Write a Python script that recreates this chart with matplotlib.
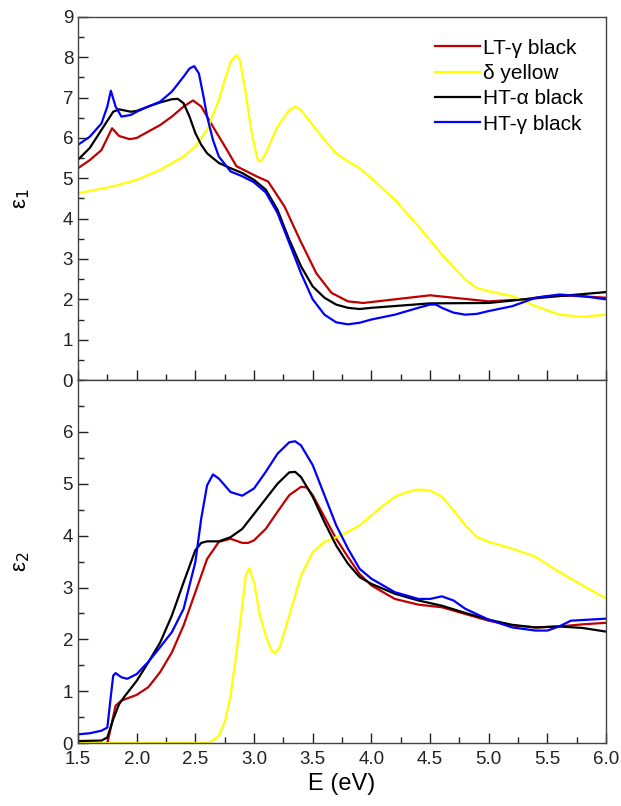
import matplotlib
matplotlib.use('Agg')
import matplotlib.pyplot as plt
from matplotlib.ticker import MultipleLocator

plt.rcParams['font.family'] = ['Liberation Sans', 'DejaVu Sans']

# eps1 (real part)
E1_red = [1.5, 1.6, 1.7, 1.75, 1.79, 1.85, 1.94, 2.0, 2.1, 2.2, 2.3, 2.4, 2.48, 2.55, 2.65, 2.77, 2.85,
          3.02, 3.12, 3.26, 3.39, 3.53, 3.66, 3.8, 3.93, 4.2, 4.5, 4.7, 5.0, 5.3, 5.5, 5.7, 6.0]
e1_red = [5.25, 5.45, 5.7, 6.0, 6.24, 6.05, 5.97, 6.0, 6.16, 6.32, 6.53, 6.78, 6.93, 6.78, 6.28, 5.7, 5.3,
          5.05, 4.92, 4.3, 3.48, 2.65, 2.16, 1.95, 1.91, 2.0, 2.1, 2.04, 1.95, 2.0, 2.08, 2.09, 2.04]

E1_yel = [1.5, 1.8, 2.0, 2.2, 2.4, 2.5, 2.6, 2.7, 2.75, 2.8, 2.85, 2.88, 2.93, 2.98, 3.03, 3.06, 3.1,
          3.2, 3.3, 3.35, 3.4, 3.5, 3.6, 3.7, 3.8, 3.9, 4.0, 4.2, 4.4, 4.6, 4.8, 4.9, 5.0, 5.2, 5.4,
          5.6, 5.8, 6.0]
e1_yel = [4.63, 4.8, 4.96, 5.21, 5.54, 5.79, 6.2, 6.94, 7.44, 7.89, 8.05, 7.93, 7.1, 6.12, 5.46, 5.42, 5.62,
          6.28, 6.69, 6.78, 6.69, 6.32, 5.95, 5.62, 5.42, 5.25, 5.0, 4.47, 3.81, 3.11, 2.49, 2.28, 2.2, 2.08, 1.83,
          1.62, 1.57, 1.62]

E1_blk = [1.5, 1.6, 1.7, 1.8, 1.85, 1.95, 2.0, 2.1, 2.2, 2.3, 2.35, 2.4, 2.45, 2.5, 2.55, 2.6, 2.7, 2.8,
          2.9, 3.0, 3.1, 3.2, 3.3, 3.4, 3.5, 3.6, 3.7, 3.8, 3.9, 4.0, 4.5, 5.0, 5.3, 5.6, 6.0]
e1_blk = [5.46, 5.75, 6.2, 6.65, 6.71, 6.65, 6.67, 6.78, 6.88, 6.96, 6.97, 6.86, 6.53, 6.12, 5.83, 5.62, 5.38, 5.25,
          5.13, 4.96, 4.72, 4.22, 3.48, 2.82, 2.32, 2.04, 1.87, 1.79, 1.76, 1.79, 1.9, 1.91, 2.0, 2.08, 2.18]

E1_blu = [1.5, 1.6, 1.7, 1.75, 1.78, 1.82, 1.87, 1.95, 2.0, 2.1, 2.2, 2.3, 2.4, 2.45, 2.49, 2.53, 2.57,
          2.6, 2.65, 2.7, 2.8, 2.9, 3.0, 3.1, 3.2, 3.3, 3.4, 3.5, 3.6, 3.7, 3.8, 3.9, 4.0, 4.2, 4.4, 4.5,
          4.55, 4.6, 4.7, 4.8, 4.9, 5.0, 5.2, 5.4, 5.6, 5.8, 6.0]
e1_blu = [5.83, 6.03, 6.36, 6.78, 7.17, 6.78, 6.53, 6.57, 6.65, 6.78, 6.9, 7.15, 7.52, 7.72, 7.78, 7.6, 7.02,
          6.53, 5.95, 5.54, 5.17, 5.05, 4.9, 4.65, 4.14, 3.4, 2.65, 2.0, 1.62, 1.43, 1.38, 1.42, 1.5, 1.62, 1.79, 1.87,
          1.87, 1.79, 1.67, 1.62, 1.64, 1.71, 1.83, 2.04, 2.12, 2.08, 2.0]

# eps2 (imaginary part)
E2_red = [1.5, 1.75, 1.78, 1.82, 1.87, 2.0, 2.1, 2.2, 2.3, 2.4, 2.5, 2.6, 2.7, 2.8, 2.9, 2.95, 3.0, 3.1,
          3.2, 3.3, 3.4, 3.45, 3.5, 3.6, 3.7, 3.8, 3.9, 4.0, 4.2, 4.4, 4.6, 4.8, 5.0, 5.2, 5.4, 5.6, 5.8, 6.0]
e2_red = [0.0, 0.0, 0.3, 0.72, 0.82, 0.93, 1.08, 1.37, 1.75, 2.27, 2.91, 3.55, 3.88, 3.94, 3.86, 3.86, 3.91, 4.13,
          4.46, 4.78, 4.94, 4.93, 4.78, 4.36, 3.94, 3.59, 3.26, 3.04, 2.78, 2.67, 2.62, 2.49, 2.36, 2.27, 2.23, 2.25,
          2.29, 2.32]

E2_yel = [1.5, 2.6, 2.65, 2.7, 2.75, 2.8, 2.85, 2.9, 2.93, 2.96, 3.0, 3.05, 3.1, 3.15, 3.18, 3.22, 3.3,
          3.4, 3.5, 3.6, 3.7, 3.8, 3.9, 4.0, 4.1, 4.2, 4.3, 4.4, 4.5, 4.6, 4.7, 4.8, 4.9, 5.0, 5.2, 5.4,
          5.6, 5.8, 6.0]
e2_yel = [0.0, 0.0, 0.05, 0.14, 0.4, 0.91, 1.75, 2.65, 3.23, 3.37, 3.1, 2.46, 2.07, 1.78, 1.73, 1.85, 2.46,
          3.23, 3.68, 3.88, 3.97, 4.07, 4.2, 4.39, 4.58, 4.75, 4.84, 4.89, 4.87, 4.75, 4.49, 4.2, 3.97, 3.88, 3.75, 3.59,
          3.3, 3.04, 2.79]

E2_blk = [1.5, 1.7, 1.75, 1.8, 1.85, 1.9, 2.0, 2.1, 2.2, 2.3, 2.4, 2.5, 2.55, 2.6, 2.7, 2.8, 2.9, 3.0,
          3.1, 3.2, 3.3, 3.35, 3.4, 3.5, 3.6, 3.7, 3.8, 3.9, 4.0, 4.2, 4.4, 4.6, 4.8, 5.0, 5.2, 5.4, 5.6,
          5.8, 6.0]
e2_blk = [0.04, 0.05, 0.11, 0.46, 0.75, 0.91, 1.2, 1.56, 1.94, 2.46, 3.1, 3.72, 3.86, 3.89, 3.89, 3.97, 4.13, 4.42,
          4.71, 5.0, 5.22, 5.23, 5.13, 4.75, 4.26, 3.81, 3.46, 3.2, 3.07, 2.88, 2.75, 2.65, 2.51, 2.38, 2.28, 2.23, 2.25,
          2.22, 2.15]

E2_blu = [1.5, 1.6, 1.7, 1.75, 1.78, 1.8, 1.82, 1.87, 1.92, 2.0, 2.1, 2.2, 2.3, 2.4, 2.5, 2.55, 2.6, 2.65,
          2.7, 2.8, 2.9, 3.0, 3.1, 3.2, 3.3, 3.35, 3.4, 3.5, 3.6, 3.7, 3.8, 3.9, 4.0, 4.2, 4.4, 4.5, 4.6,
          4.7, 4.8, 5.0, 5.2, 5.4, 5.5, 5.6, 5.7, 6.0]
e2_blu = [0.17, 0.19, 0.24, 0.3, 0.91, 1.3, 1.35, 1.27, 1.24, 1.33, 1.57, 1.85, 2.14, 2.59, 3.49, 4.33, 4.97, 5.18,
          5.1, 4.84, 4.77, 4.91, 5.23, 5.58, 5.8, 5.82, 5.74, 5.36, 4.78, 4.2, 3.75, 3.36, 3.17, 2.91, 2.78, 2.78, 2.83,
          2.75, 2.59, 2.38, 2.23, 2.17, 2.17, 2.25, 2.36, 2.4]

labels = ['LT-γ black', 'δ yellow', 'HT-α black', 'HT-γ black']
colors = ['#c00000', '#ffff00', 'black', '#0000ff']

fig, (ax1, ax2) = plt.subplots(2, 1, figsize=(6.21, 8.06), dpi=100, sharex=True)
fig.subplots_adjust(left=0.1256, right=0.976, top=0.979, bottom=0.078, hspace=0)

top = [(E1_red, e1_red), (E1_yel, e1_yel), (E1_blk, e1_blk), (E1_blu, e1_blu)]
bot = [(E2_red, e2_red), (E2_yel, e2_yel), (E2_blk, e2_blk), (E2_blu, e2_blu)]
for (x, y), c, lab in zip(top, colors, labels):
    ax1.plot(x, y, color=c, lw=1.6, label=lab)
for (x, y), c in zip(bot, colors):
    ax2.plot(x, y, color=c, lw=1.6)

ax1.set_xlim(1.5, 6.0)
ax1.set_ylim(0, 9)
ax2.set_ylim(0, 7)
ax1.yaxis.set_major_locator(MultipleLocator(1))
ax1.yaxis.set_minor_locator(MultipleLocator(0.5))
ax2.set_yticks(range(7))
ax2.yaxis.set_minor_locator(MultipleLocator(0.5))
ax2.xaxis.set_major_locator(MultipleLocator(0.5))
ax2.xaxis.set_minor_locator(MultipleLocator(0.25))
ax2.xaxis.set_major_formatter(plt.FormatStrFormatter('%.1f'))

for ax in (ax1, ax2):
    ax.tick_params(which='both', direction='in', top=False, right=False, labelsize=13.5, colors='#222222')
    ax.tick_params(which='major', length=7, width=1)
    ax.tick_params(which='minor', length=4, width=1)
    for s in ax.spines.values():
        s.set_color('#444444')
        s.set_linewidth(1.0)
ax1.tick_params(axis='x', labelbottom=False)
ax2.tick_params(axis='x', pad=6)

ax1.set_ylabel('ε$_1$', fontsize=16, labelpad=22)
ax2.set_ylabel('ε$_2$', fontsize=16, labelpad=22)
ax2.set_xlabel('E (eV)', fontsize=17, labelpad=3)

ax1.legend(loc='upper right', bbox_to_anchor=(0.985, 0.98), frameon=False, fontsize=15,
           handlelength=2.2, handletextpad=0.15, labelspacing=0.3, borderpad=0.2)

fig.savefig('out.png', dpi=100)
